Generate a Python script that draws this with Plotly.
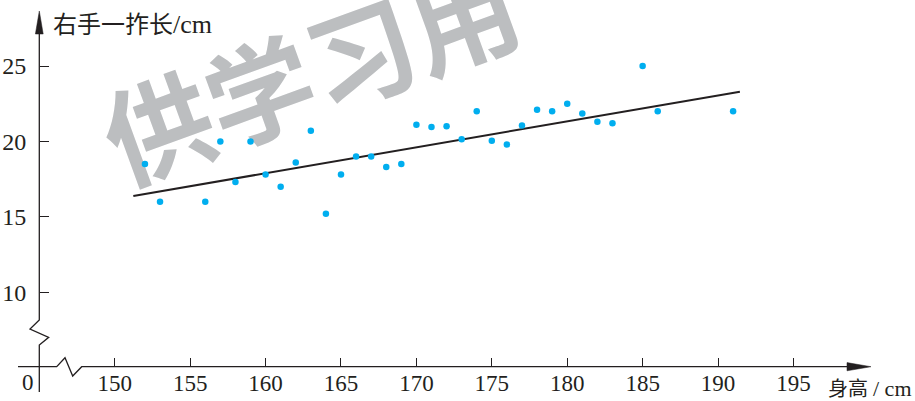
import plotly.graph_objects as go

# Height (cm) and right-hand span (cm) for each student
height_cm = [152, 153, 156, 157, 158, 159, 160, 161, 162, 163, 164, 165, 166, 167,
             168, 169, 170, 171, 172, 173, 174, 175, 176, 177, 178, 179, 180, 181,
             182, 183, 185, 186, 191]
span_cm = [18.5, 16.0, 16.0, 20.0, 17.3, 20.0, 17.8, 17.0, 18.6, 20.7, 15.2, 17.8,
           19.0, 19.0, 18.3, 18.5, 21.1, 20.95, 21.0, 20.15, 22.0, 20.05, 19.8, 21.05,
           22.1, 22.0, 22.5, 21.85, 21.3, 21.2, 25.0, 22.0, 22.0]

# Fitted straight line (end points)
fit_x = [151.23, 191.45]
fit_y = [16.38, 23.3]

x_ticks = [150, 155, 160, 165, 170, 175, 180, 185, 190, 195]
y_ticks = [10, 15, 20, 25]

W, H = 915, 401
INK = "#231F20"
SERIF = "Liberation Serif, Times New Roman, Noto Sans CJK SC"


def px(x, y):
    """Pixel position -> paper coordinates."""
    return x / W, 1 - y / H


def path(points, close=False):
    parts = []
    for i, (x, y) in enumerate(points):
        u, v = px(x, y)
        parts.append(("M" if i == 0 else "L") + f"{u:.5f},{v:.5f}")
    return " ".join(parts) + (" Z" if close else "")


fig = go.Figure()

fig.add_trace(go.Scatter(
    x=fit_x, y=fit_y, mode="lines",
    line=dict(color=INK, width=2), hoverinfo="skip", showlegend=False))

fig.add_trace(go.Scatter(
    x=height_cm, y=span_cm, mode="markers",
    marker=dict(color="#00AEEF", size=6.5, line=dict(width=0)),
    showlegend=False))

AX_X = 39.3   # pixel column of the vertical axis
AX_Y = 366.7  # pixel row of the horizontal axis
line_style = dict(color=INK, width=1.3)

# Watermark box (pixels), drawn underneath the data
wm_cx, wm_cy, wm_w, wm_h = 315, 84, 440, 120
x0, y0 = px(wm_cx - wm_w / 2, wm_cy + wm_h / 2)
x1, y1 = px(wm_cx + wm_w / 2, wm_cy - wm_h / 2)

shapes = [
    dict(type="rect", xref="paper", yref="paper", layer="below",
         x0=x0, y0=y0, x1=x1, y1=y1,
         line=dict(width=0), fillcolor="rgba(0,0,0,0)",
         label=dict(text="供学习用", textangle=-20, textposition="middle center",
                    font=dict(family="Noto Sans CJK SC", size=108,
                              color="#BCBEC0", weight="bold"))),
    # vertical axis with break
    dict(type="path", xref="paper", yref="paper", line=line_style,
         path=path([(AX_X, 30), (AX_X, 320), (30.0, 329), (48.7, 337.3),
                    (AX_X, 345), (AX_X, 392)])),
    # horizontal axis with break
    dict(type="path", xref="paper", yref="paper", line=line_style,
         path=path([(18, AX_Y), (56.7, AX_Y), (65, 357.7), (72.7, 376),
                    (81.7, AX_Y), (852, AX_Y)])),
    # arrow heads
    dict(type="path", xref="paper", yref="paper", line=dict(color=INK, width=0.5),
         fillcolor=INK,
         path=path([(AX_X, 11), (35.4, 34), (43.2, 34)], close=True)),
    dict(type="path", xref="paper", yref="paper", line=dict(color=INK, width=0.5),
         fillcolor=INK,
         path=path([(871, AX_Y), (847, 362.6), (847, 370.8)], close=True)),
]

annotations = [
    dict(text="右手一拃长<span style='font-size:26px'>/cm</span>",
         x=51 / W, y=1 - 24 / H, xref="paper", yref="paper",
         xanchor="left", yanchor="middle", showarrow=False,
         font=dict(family=SERIF, size=24, color=INK)),
    dict(text="身高 <span style='font-size:22px'>/ cm</span>",
         x=914 / W, y=1 - 388 / H, xref="paper", yref="paper",
         xanchor="right", yanchor="middle", showarrow=False,
         font=dict(family=SERIF, size=20, color=INK)),
    dict(text="0", x=28 / W, y=1 - 382 / H, xref="paper", yref="paper",
         xanchor="center", yanchor="middle", showarrow=False,
         font=dict(family=SERIF, size=23, color=INK)),
]

fig.update_layout(
    width=W, height=H,
    margin=dict(l=0, r=0, t=0, b=0, pad=0),
    paper_bgcolor="white", plot_bgcolor="rgba(0,0,0,0)",
    shapes=shapes, annotations=annotations,
    xaxis=dict(range=[142.39, 203.06], anchor="free", position=1 - AX_Y / H,
               showgrid=False, zeroline=False, showline=False,
               tickmode="array", tickvals=x_ticks,
               ticks="inside", ticklen=9, tickwidth=1.3, tickcolor=INK,
               tickfont=dict(family=SERIF, size=23, color=INK)),
    yaxis=dict(range=[2.785, 29.377], anchor="free", position=AX_X / W,
               showgrid=False, zeroline=False, showline=False,
               tickmode="array", tickvals=y_ticks,
               ticks="inside", ticklen=9, tickwidth=1.3, tickcolor=INK,
               ticklabelstandoff=13,
               tickfont=dict(family=SERIF, size=24, color=INK)),
    showlegend=False,
)

fig.write_html("out.html")
